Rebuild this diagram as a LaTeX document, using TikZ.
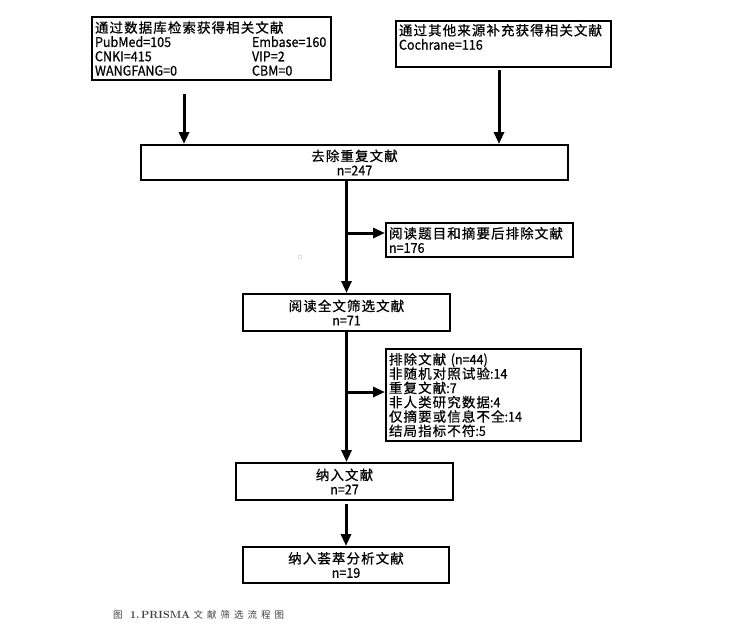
\documentclass[tikz,border=0pt]{standalone}
\usepackage{fontspec}
\usetikzlibrary{arrows.meta}
\newfontfamily\boxfont{Noto Sans CJK SC}[FakeStretch=0.93, FakeBold=0.6]
\newfontfamily\zhfont{Noto Sans CJK SC}[LetterSpace=8, FakeBold=0.6]
\newfontfamily\capfont{Noto Sans CJK SC}[LetterSpace=42]
\newcommand\zh[1]{{\zhfont #1}}
\tikzset{
  box/.style = {draw, line width = 2pt, inner xsep = 3pt, inner ysep = 2pt, font = \boxfont\fontsize{13.5}{14.3}\selectfont},
  midbox/.style = {box, align = center},
  sidebox/.style = {box, align = left},
  flow/.style = {line width = 3pt, -{Triangle[length = 12pt, width = 10pt]}}
}
\begin{document}
\begin{tikzpicture}[x = 1pt, y = -1pt]
\useasboundingbox (0,0) rectangle (731,624);
\node [sidebox, text width = 233pt, minimum height = 63pt] (db) at (211.5,48.5) {\zh{通过数据库检索获得相关文献}\\
\makebox[157pt][l]{PubMed=105}Embase=160\\
\makebox[157pt][l]{CNKI=415}VIP=2\\
\makebox[157pt][l]{WANGFANG=0}CBM=0};
\node [sidebox, text width = 209pt, minimum height = 46pt] (other) at (503.5,44) {\zh{通过其他来源补充获得相关文献}\\Cochrane=116\\~};
\node [midbox, minimum width = 427pt, minimum height = 35pt] (dedup) at (354.5,162.5) {\zh{去除重复文献}\\n=247};
\node [sidebox, text width = 181pt, minimum height = 34pt] (titleabs) at (479.5,240) {\zh{阅读题目和摘要后排除文献}\\n=176};
\node [midbox, minimum width = 207pt, minimum height = 37pt] (fulltext) at (346.5,312.5) {\zh{阅读全文筛选文献}\\n=71};
\node [sidebox, text width = 189pt, minimum height = 92pt] (excl) at (483.5,395) {\zh{排除文献} (n=44)\\
\zh{非随机对照试验}:14\\
\zh{重复文献}:7\\
\zh{非人类研究数据}:4\\
\zh{仅摘要或信息不全}:14\\
\zh{结局指标不符}:5};
\node [midbox, minimum width = 217pt, minimum height = 37pt] (incl) at (344.5,481.5) {\zh{纳入文献}\\n=27};
\node [midbox, minimum width = 206pt, minimum height = 36pt] (final) at (346,565) {\zh{纳入荟萃分析文献}\\n=19};
\coordinate (s1) at (184,94);
\coordinate (s2) at (499,70);
\coordinate (j1) at (346.5,233);
\coordinate (j2) at (346.5,392);
\draw [flow] (s1) -- (s1 |- dedup.north);
\draw [flow] (s2) -- (s2 |- dedup.north);
\draw [flow] (fulltext.north |- dedup.south) -- (fulltext.north);
\draw [flow] (j1) -- (j1 -| titleabs.west);
\draw [flow] (fulltext.south) -- (incl.north -| fulltext.south);
\draw [flow] (j2) -- (j2 -| excl.west);
\draw [flow] ([yshift = -3pt]incl.south -| final.north) -- (final.north);
\draw [gray!50] (300,257) circle (2);
\node [anchor = west, inner sep = 0pt, text = black!75] (caption) at (113,615) {{\capfont\fontsize{9.5}{11}\selectfont 图} \textbf{\fontsize{10.5}{12}\selectfont 1.\,PRISMA} {\capfont\fontsize{9.5}{11}\selectfont 文献筛选流程图}};
\end{tikzpicture}
\end{document}
